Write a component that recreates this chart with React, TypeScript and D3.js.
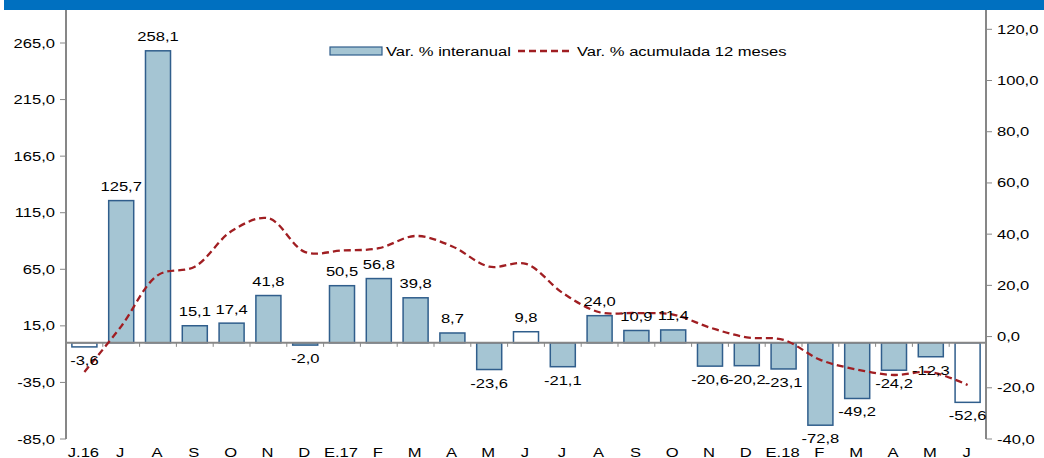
import React from 'react';
import * as d3 from 'd3';

// meses jun-2016 .. jun-2018
const months = ['J.16', 'J', 'A', 'S', 'O', 'N', 'D', 'E.17', 'F', 'M', 'A', 'M', 'J', 'J', 'A', 'S', 'O', 'N', 'D', 'E.18', 'F', 'M', 'A', 'M', 'J'];
const varInteranual = [-3.6, 125.7, 258.1, 15.1, 17.4, 41.8, -2.0, 50.5, 56.8, 39.8, 8.7, -23.6, 9.8, -21.1, 24.0, 10.9, 11.4, -20.6, -20.2, -23.1, -72.8, -49.2, -24.2, -12.3, -52.6];
const varAcumulada = [-13.8, 4.0, 24.0, 27.3, 41.2, 46.2, 33.0, 33.6, 34.5, 39.3, 35.2, 27.3, 28.4, 17.0, 9.5, 9.2, 8.6, 3.5, -0.3, -1.3, -9.1, -12.9, -15.0, -13.9, -18.9];
const leftTicks = [-85, -35, 15, 65, 115, 165, 215, 265];
const rightTicks = [-40, -20, 0, 20, 40, 60, 80, 100, 120];
const juneIdx = [0, 12, 24];

const W = 1044;
const H = 458;
const FONT = '"Liberation Sans", Arial, sans-serif';
const SX = 1.38; // el original esta estirado en horizontal

const fmt = (v: number) => v.toFixed(1).replace('.', ',');

function T({ x, y, anchor = 'middle', children }: any) {
  return (
    <text
      transform={`translate(${x},${y}) scale(${SX},1)`}
      textAnchor={anchor}
      fontFamily={FONT}
      fontSize={12}
      fill="#000"
    >
      {children}
    </text>
  );
}

export default function App() {
  const left = 66, right = 986, bottom = 439, top = 10;

  const x = d3.scaleBand<number>()
    .domain(d3.range(months.length))
    .range([left, right])
    .paddingInner(0.32)
    .paddingOuter(0.16);

  const yL = d3.scaleLinear().domain([-85, 265]).range([bottom, 43]);
  const yR = d3.scaleLinear().domain([-40, 120]).range([bottom, 29.3]);

  const cx = (i: number) => (x(i) as number) + x.bandwidth() / 2;

  const line = d3.line<number>()
    .x((d, i) => cx(i))
    .y(d => yR(d))
    .curve(d3.curveCatmullRom.alpha(0.5));

  const axisColor = '#878787';
  const z = yL(0);

  return (
    <svg width={W} height={H} style={{ position: 'absolute', left: 0, top: 0, background: '#fff' }}>
      <rect x={4} y={0} width={W - 4} height={10} fill="#0070C0" />

      {/* bars */}
      {varInteranual.map((v, i) => (
        <rect
          key={'b' + i}
          x={x(i)}
          y={Math.min(yL(v), z)}
          width={x.bandwidth()}
          height={Math.abs(yL(v) - z)}
          fill={juneIdx.includes(i) ? '#ffffff' : '#A5C5D3'}
          stroke="#305E8C"
          strokeWidth={1.5}
        />
      ))}

      {/* zero line + category ticks */}
      <line x1={left} x2={right} y1={z} y2={z} stroke={axisColor} strokeWidth={2} />
      {d3.range(months.length + 1).map(i => {
        const xx = left + i * x.step();
        return <line key={'ct' + i} x1={xx} x2={xx} y1={z} y2={z + 4} stroke={axisColor} strokeWidth={1} />;
      })}

      {/* left axis */}
      <line x1={left} x2={left} y1={top} y2={bottom} stroke={axisColor} strokeWidth={2} />
      {leftTicks.map(t => (
        <g key={'l' + t}>
          <line x1={left - 6} x2={left} y1={yL(t)} y2={yL(t)} stroke={axisColor} strokeWidth={1} />
          <T x={55} y={yL(t) + 4.5} anchor="end">{fmt(t)}</T>
        </g>
      ))}

      {/* right axis */}
      <line x1={right} x2={right} y1={top} y2={bottom} stroke={axisColor} strokeWidth={2} />
      {rightTicks.map(t => (
        <g key={'r' + t}>
          <line x1={right} x2={right + 6} y1={yR(t)} y2={yR(t)} stroke={axisColor} strokeWidth={1} />
          <T x={997} y={yR(t) + 4.5} anchor="start">{fmt(t)}</T>
        </g>
      ))}

      {/* acumulada line */}
      <path d={line(varAcumulada) || ''} fill="none" stroke="#A01E22" strokeWidth={2.3} strokeDasharray="7,4" />

      {/* data labels */}
      {varInteranual.map((v, i) => (
        <T key={'dl' + i} x={cx(i)} y={v >= 0 ? yL(v) - 9.5 : yL(v) + 18}>{fmt(v)}</T>
      ))}

      {/* month labels */}
      {months.map((m, i) => (
        <T key={'m' + i} x={cx(i) - 1} y={457}>{m}</T>
      ))}

      {/* legend */}
      <rect x={330} y={47} width={52} height={8} fill="#A5C5D3" stroke="#305E8C" strokeWidth={1.2} />
      <T x={386} y={55.5} anchor="start">Var. % interanual</T>
      <line x1={518} x2={571} y1={51} y2={51} stroke="#A01E22" strokeWidth={2.3} strokeDasharray="7,4" />
      <T x={577} y={55.5} anchor="start">Var. % acumulada 12 meses</T>
    </svg>
  );
}
